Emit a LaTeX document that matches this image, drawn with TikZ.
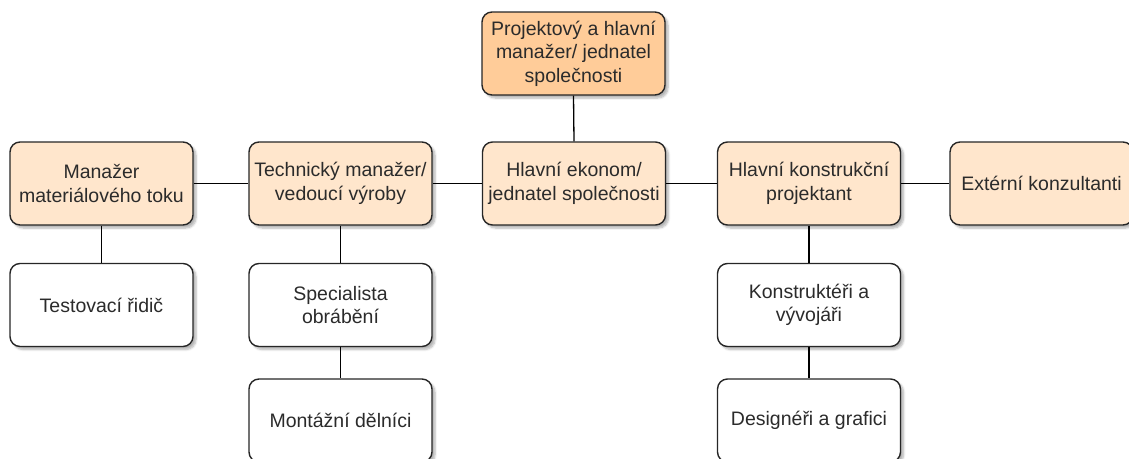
\documentclass[tikz,border=0pt]{standalone}
\usepackage{fontspec}
\setmainfont{Liberation Sans}
\usetikzlibrary{shadows.blur}
\definecolor{headfill}{HTML}{FFCC99}
\definecolor{rolefill}{HTML}{FFE6CC}
\definecolor{edgeline}{HTML}{262626}
\definecolor{labeltext}{HTML}{2B2B2B}
\tikzset{
  unit/.style={draw=edgeline, line width=1.4pt, rounded corners=10pt,
    minimum width=183pt, minimum height=83pt, inner sep=2pt, align=center,
    text=labeltext, font=\fontsize{19.5}{23.5}\selectfont,
    blur shadow={shadow xshift=3pt, shadow yshift=-3pt, shadow blur steps=6, shadow opacity=30}},
  head/.style={unit, fill=headfill},
  role/.style={unit, fill=rolefill},
  staff/.style={unit, fill=white},
  link/.style={draw=black, line width=1.3pt}
}
\begin{document}
\begin{tikzpicture}[x=1pt, y=1pt]
  \useasboundingbox (0,0) rectangle (1129,-458);
  \clip (0,0) rectangle (1129,-458);
  % top of the hierarchy
  \node[head] (ceo) at (573.5,-53.5) {Projektový a hlavní\\manažer/ jednatel\\společnosti};
  % management row
  \node[role] (mat)  at (101.5,-183.5) {Manažer\\materiálového toku};
  \node[role] (tech) at (340.5,-183.5) {Technický manažer/\\vedoucí výroby};
  \node[role] (eco)  at (574,-183.5)   {Hlavní ekonom/\\jednatel společnosti};
  \node[role] (con)  at (809,-183.5)   {Hlavní konstrukční\\projektant};
  \node[role] (ext)  at (1041.5,-183.5) {Extérní konzultanti};
  % staff
  \node[staff] (drv)  at (101.5,-305) {Testovací řidič};
  \node[staff] (mach) at (340.5,-305) {Specialista\\obrábění};
  \node[staff] (asm)  at (340.5,-420.5) {Montážní dělníci};
  \node[staff] (dev)  at (809,-305)   {Konstruktéři a\\vývojáři};
  \node[staff] (des)  at (809,-420.5) {Designéři a grafici};
  % connectors
  \draw[link] (ceo.south) -- (eco.north);
  \draw[link] (mat.east) -- (tech.west);
  \draw[link] (tech.east) -- (eco.west);
  \draw[link] (eco.east) -- (con.west);
  \draw[link] (con.east) -- (ext.west);
  \draw[link] (mat.south) -- (drv.north);
  \draw[link] (tech.south) -- (mach.north);
  \draw[link] (mach.south) -- (asm.north);
  \draw[link] (con.south) -- (dev.north);
  \draw[link] (dev.south) -- (des.north);
\end{tikzpicture}
\end{document}
